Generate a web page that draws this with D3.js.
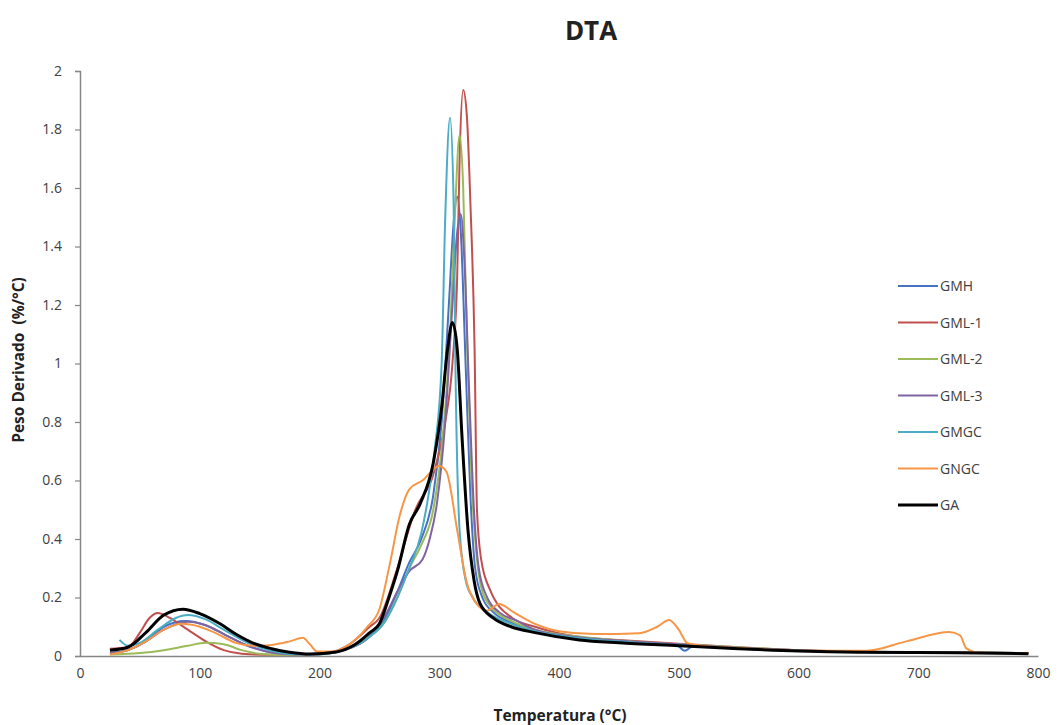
<!DOCTYPE html>
<html>
<head>
<meta charset="utf-8">
<title>DTA</title>
<style>
  body { margin: 0; background: #fff; }
  svg text { font-family: "Open Sans", Lato, sans-serif; }
</style>
</head>
<body>
<svg id="viz" width="1059" height="725"></svg>
<script src="https://d3js.org/d3.v7.min.js"></script>
<script>
// tick values
var xTicks = [0, 100, 200, 300, 400, 500, 600, 700, 800];
var yTicks = [0, 0.2, 0.4, 0.6, 0.8, 1, 1.2, 1.4, 1.6, 1.8, 2];

// series names + colours (excel 2007 palette)
var seriesNames = ["GMH", "GML-1", "GML-2", "GML-3", "GMGC", "GNGC", "GA"];
var seriesColors = ["#4572c4", "#c0504d", "#9bbb59", "#8064a2", "#4bacc6", "#f79646", "#000000"];

// [temperature, peso derivado]
var gmh = [[25,0.01],[40,0.02],[55,0.05],[70,0.1],[88,0.12],[105,0.105],[120,0.075],[140,0.035],[160,0.012],[180,0.005],[200,0.006],[220,0.02],[240,0.06],[255,0.13],[265,0.22],[275,0.32],[285,0.4],[295,0.55],[302,0.8],[308,1.2],[312,1.48],[315,1.57],[318,1.45],[322,1.0],[326,0.55],[330,0.3],[336,0.2],[345,0.15],[360,0.115],[380,0.085],[420,0.06],[460,0.048],[498,0.038],[505,0.018],[512,0.034],[550,0.025],[600,0.018],[700,0.012],[792,0.01]];
var gml1 = [[25,0.025],[40,0.03],[50,0.08],[58,0.13],[65,0.147],[75,0.13],[90,0.09],[105,0.05],[120,0.02],[135,0.008],[160,0.004],[190,0.005],[209,0.012],[225,0.04],[242,0.1],[250,0.13],[265,0.3],[280,0.5],[295,0.62],[305,0.8],[311,1.0],[315,1.3],[317,1.7],[320,1.935],[323,1.85],[326,1.55],[329.5,1.05],[331.5,0.5],[335,0.33],[342,0.23],[361,0.13],[380,0.1],[417,0.065],[450,0.055],[500,0.042],[550,0.03],[600,0.02],[700,0.013],[792,0.01]];
var gml2 = [[25,0.005],[50,0.01],[70,0.02],[90,0.035],[105,0.045],[120,0.04],[135,0.02],[150,0.008],[175,0.004],[200,0.006],[220,0.02],[240,0.06],[255,0.12],[265,0.2],[275,0.3],[285,0.38],[295,0.5],[303,0.75],[309,1.1],[313,1.5],[317,1.78],[320,1.6],[323,1.1],[327,0.6],[331,0.35],[336,0.22],[345,0.16],[360,0.12],[380,0.09],[420,0.065],[460,0.05],[500,0.04],[550,0.03],[600,0.02],[700,0.013],[792,0.01]];
var gml3 = [[25,0.01],[40,0.02],[55,0.05],[70,0.09],[90,0.117],[105,0.105],[120,0.075],[140,0.035],[160,0.012],[180,0.005],[200,0.006],[220,0.02],[240,0.06],[255,0.14],[265,0.22],[275,0.29],[286,0.33],[292,0.4],[298,0.52],[305,0.8],[311,1.2],[315,1.45],[318,1.51],[321,1.35],[325,0.9],[329,0.5],[333,0.3],[340,0.2],[350,0.15],[365,0.12],[380,0.09],[420,0.062],[460,0.05],[500,0.04],[550,0.028],[600,0.02],[700,0.012],[792,0.01]];
var gmgc = [[33,0.055],[40,0.035],[50,0.045],[65,0.09],[80,0.13],[90,0.14],[105,0.125],[120,0.09],[140,0.045],[160,0.018],[180,0.006],[200,0.006],[220,0.02],[240,0.06],[255,0.12],[265,0.2],[275,0.3],[285,0.42],[291,0.55],[296,0.7],[302,1.0],[305,1.5],[309,1.84],[312,1.55],[313.5,1.0],[317,0.43],[322,0.26],[328,0.2],[340,0.15],[360,0.11],[380,0.085],[420,0.06],[460,0.047],[500,0.037],[550,0.026],[600,0.018],[700,0.012],[792,0.01]];
var gngc = [[25,0.005],[40,0.02],[55,0.05],[70,0.09],[85,0.11],[100,0.1],[115,0.075],[130,0.045],[145,0.035],[160,0.038],[175,0.05],[186,0.062],[192,0.04],[198,0.015],[210,0.015],[225,0.04],[240,0.1],[250,0.16],[259,0.32],[267,0.48],[275,0.57],[286,0.6],[300,0.65],[306,0.63],[315,0.43],[323,0.25],[331,0.18],[340,0.155],[350,0.178],[362,0.15],[380,0.11],[400,0.085],[430,0.075],[467,0.078],[482,0.1],[492,0.123],[500,0.09],[507,0.045],[520,0.035],[560,0.025],[600,0.018],[657,0.018],[690,0.05],[726,0.082],[735,0.07],[740,0.027],[750,0.012],[792,0.01]];
var ga = [[25,0.02],[40,0.03],[55,0.08],[70,0.14],[86,0.16],[100,0.145],[117,0.11],[130,0.075],[144,0.045],[160,0.025],[175,0.013],[192,0.007],[214,0.014],[230,0.04],[242,0.08],[250,0.11],[258,0.2],[265,0.29],[275,0.45],[284,0.52],[295,0.66],[302,0.85],[307,1.05],[311,1.14],[315,1.05],[319,0.75],[324,0.43],[329,0.26],[334,0.18],[345,0.13],[360,0.1],[380,0.08],[417,0.055],[450,0.045],[500,0.035],[550,0.025],[600,0.017],[650,0.013],[700,0.012],[750,0.01],[792,0.008]];

var allSeries = [gmh, gml1, gml2, gml3, gmgc, gngc, ga];

var svg = d3.select("#viz");

var x = d3.scaleLinear().domain([0, 800]).range([80, 1038]);
var y = d3.scaleLinear().domain([0, 2]).range([656, 71]);

var axisGrey = "#868686";
var textGrey = "#404040";

// y axis, ticks to the left
var yAxis = svg.append("g")
  .attr("transform", "translate(80,0)")
  .call(d3.axisLeft(y).tickValues(yTicks).tickSize(5).tickPadding(13).tickFormat(d3.format("~g")));
yAxis.select(".domain").attr("stroke", axisGrey).attr("stroke-width", 1.5);
yAxis.selectAll(".tick line").attr("stroke", axisGrey).attr("stroke-width", 1.2);
yAxis.selectAll(".tick text").attr("fill", textGrey).style("font-size", "14px");

// x axis, no tick marks
var xAxis = svg.append("g")
  .attr("transform", "translate(0,656)")
  .call(d3.axisBottom(x).tickValues(xTicks).tickSize(0).tickPadding(12));
xAxis.select(".domain").attr("stroke", axisGrey).attr("stroke-width", 1.5);
xAxis.selectAll(".tick text").attr("fill", textGrey).style("font-size", "14px");

// the lines
var line = d3.line()
  .x(function(d) { return x(d[0]); })
  .y(function(d) { return y(d[1]); })
  .curve(d3.curveMonotoneX);

svg.append("g").selectAll("path")
  .data(allSeries)
  .enter().append("path")
  .attr("d", line)
  .attr("fill", "none")
  .attr("stroke", function(d, i) { return seriesColors[i]; })
  .attr("stroke-width", function(d, i) { return i == 6 ? 3 : 2; })
  .attr("stroke-linejoin", "round");

// titles
svg.append("text")
  .attr("x", 591).attr("y", 40)
  .attr("text-anchor", "middle")
  .style("font-size", "26px").style("font-weight", "bold")
  .attr("fill", "#222")
  .text("DTA");

svg.append("text")
  .attr("x", 560).attr("y", 721)
  .attr("text-anchor", "middle")
  .style("font-size", "15.5px").style("font-weight", "bold")
  .attr("fill", "#222")
  .text("Temperatura (°C)");

svg.append("text")
  .attr("transform", "translate(24,360) rotate(-90)")
  .attr("text-anchor", "middle")
  .style("font-size", "15.5px").style("font-weight", "bold")
  .attr("fill", "#222")
  .attr("xml:space", "preserve")
  .text("Peso Derivado  (%/°C)");

// legend
var legend = svg.append("g").selectAll("g")
  .data(seriesNames)
  .enter().append("g")
  .attr("transform", function(d, i) { return "translate(898," + (286 + i * 36.5) + ")"; });

legend.append("line")
  .attr("x1", 0).attr("x2", 40)
  .attr("stroke", function(d, i) { return seriesColors[i]; })
  .attr("stroke-width", function(d, i) { return i == 6 ? 3 : 2; });

legend.append("text")
  .attr("x", 42).attr("y", 5)
  .style("font-size", "14px")
  .attr("fill", textGrey)
  .text(function(d) { return d; });
</script>
</body>
</html>
